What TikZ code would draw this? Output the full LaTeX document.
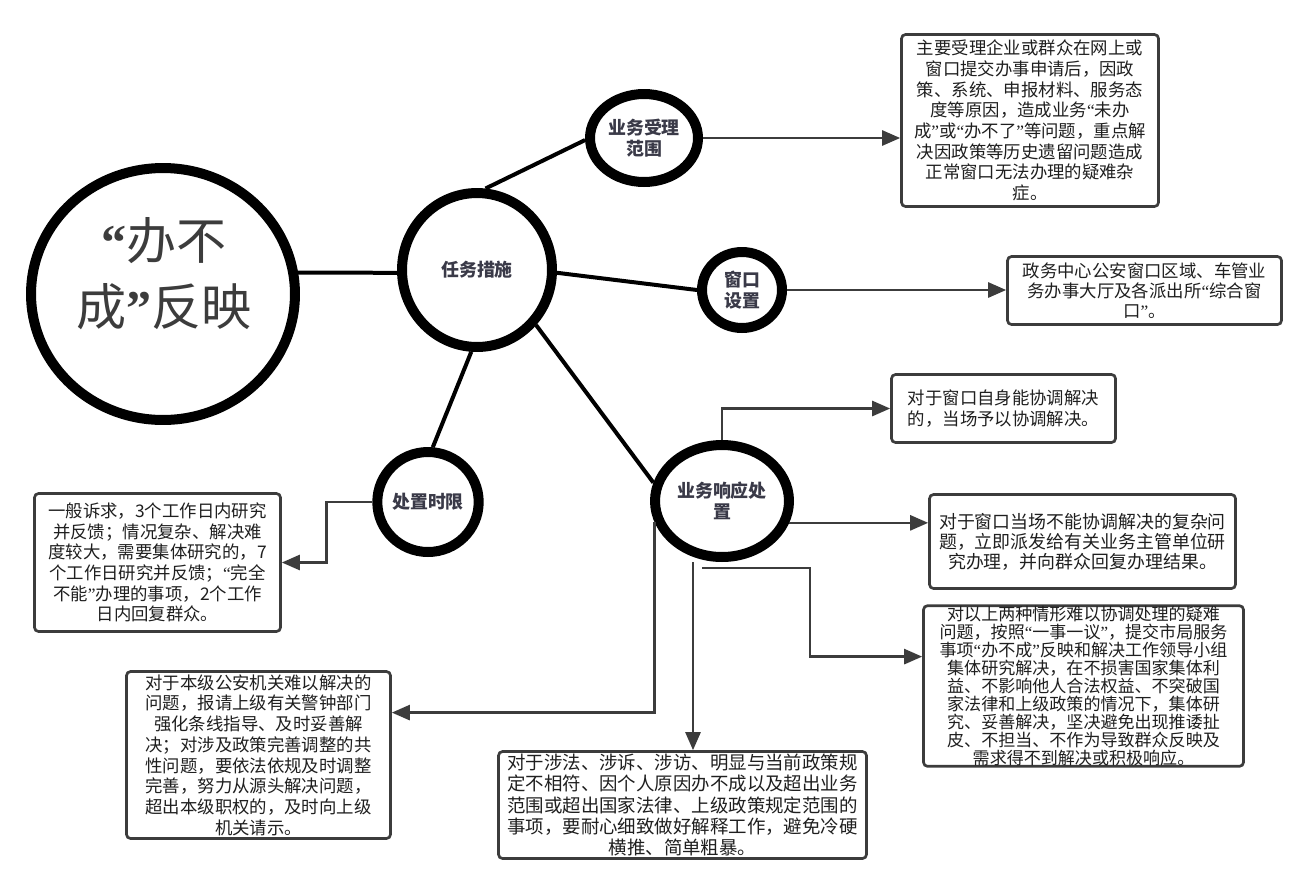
\documentclass[tikz,border=0pt]{standalone}
\usepackage{fontspec}
\setmainfont{Noto Sans CJK SC}
\newfontfamily\qf{Liberation Serif}
\newcommand\oq{{\qf “}}
\newcommand\cq{{\qf ”}}
\usetikzlibrary{shapes.geometric,arrows.meta,calc}
\definecolor{lbl}{HTML}{3A3A48}
\definecolor{ink}{HTML}{3C3C3C}

\begin{document}
        \begin{tikzpicture}[x=0.02cm,y=-0.02cm,
            bub/.style={draw=black,line width=0.2cm,ellipse,inner sep=0pt,align=center,
                text=lbl,font=\bfseries\fontsize{10.2}{12}\selectfont},
            desc/.style={draw=ink,line width=0.054cm,rounded corners=0.08cm,inner sep=0pt,
                align=center,text=black!88,font=\fontsize{9.9}{11.8}\selectfont},
            link/.style={line width=0.08cm},
            arr/.style={draw=ink,line width=0.052cm,-{Triangle[length=0.36cm,width=0.3cm]}}]
            \fill[white] (0,0) rectangle (1314,893);
            \node[bub,minimum width=5.28cm,minimum height=5.04cm] (big) at (163,294) {};
            \node[text=ink,font=\fontsize{28.5}{37.5}\selectfont,align=center] (bigt) at (164,274) {\textbf{\oq}办不\\成\textbf{\cq}反映};
            \node[bub,minimum width=3.0cm,minimum height=3.08cm] (tm) at (477,270) {任务措施};
            \node[bub,minimum width=2.16cm,minimum height=1.76cm] (sl) at (644,138) {业务受理\\范围};
            \node[bub,minimum width=1.6cm,minimum height=1.52cm] (ck) at (742,290) {窗口\\设置};
            \node[bub,minimum width=2.0cm,minimum height=2.0cm] (cz) at (428,502) {处置时限};
            \node[bub,minimum width=2.68cm,minimum height=2.24cm] (xy) at (722,501) {业务响应处\\置};

            \node[desc,minimum width=5.14cm,minimum height=3.44cm] (sld) at (1030,120.5) {主要受理企业或群众在网上或\\窗口提交办事申请后，因政\\策、系统、申报材料、服务态\\度等原因，造成业务\oq 未办\\成\cq 或\oq 办不了\cq 等问题，重点解\\决因政策等历史遗留问题造成\\正常窗口无法办理的疑难杂\\症。};
            \node[desc,minimum width=5.48cm,minimum height=1.36cm,font=\fontsize{9.9}{11.4}\selectfont] (ckd) at (1144.5,290.5) {政务中心公安窗口区域、车管业\\务办事大厅及各派出所\oq 综合窗\\口\cq 。};
            \node[desc,minimum width=4.48cm,minimum height=1.36cm] (xyA) at (1003.5,408.5) {对于窗口自身能协调解决\\的，当场予以协调解决。};
            \node[desc,minimum width=6.12cm,minimum height=1.88cm,font=\fontsize{10.2}{11.4}\selectfont] (xyB) at (1082.5,541.5) {对于窗口当场不能协调解决的复杂问\\题，立即派发给有关业务主管单位研\\究办理，并向群众回复办理结果。};
            \node[desc,minimum width=6.4cm,minimum height=3.18cm,font=\fontsize{9.7}{10.3}\selectfont] (xyC) at (1083.5,686) {对以上两种情形难以协调处理的疑难\\问题，按照\oq 一事一议\cq ，提交市局服务\\事项\oq 办不成\cq 反映和解决工作领导小组\\集体研究解决，在不损害国家集体利\\益、不影响他人合法权益、不突破国\\家法律和上级政策的情况下，集体研\\究、妥善解决，坚决避免出现推诿扯\\皮、不担当、不作为导致群众反映及\\需求得不到解决或积极响应。};
            \node[desc,minimum width=7.36cm,minimum height=2.14cm,font=\fontsize{10.5}{12}\selectfont] (xyD) at (682.5,805) {对于涉法、涉诉、涉访、明显与当前政策规\\定不相符、因个人原因办不成以及超出业务\\范围或超出国家法律、上级政策规定范围的\\事项，要耐心细致做好解释工作，避免冷硬\\横推、简单粗暴。};
            \node[desc,minimum width=5.28cm,minimum height=3.34cm] (xyE) at (258.5,755) {对于本级公安机关难以解决的\\问题，报请上级有关警钟部门\\强化条线指导、及时妥善解\\决；对涉及政策完善调整的共\\性问题，要依法依规及时调整\\完善，努力从源头解决问题，\\超出本级职权的，及时向上级\\机关请示。};
            \node[desc,minimum width=4.92cm,minimum height=2.76cm] (czd) at (157.5,562.5) {一般诉求，3个工作日内研究\\并反馈；情况复杂、解决难\\度较大，需要集体研究的，7\\个工作日研究并反馈；\oq 完全\\不能\cq 办理的事项，2个工作\\日内回复群众。};

            \draw[link] (big.9) -- (tm.182);
            \draw[link] (tm.84) -- (sl.182);
            \draw[link] (tm.-2) -- (ck.west);
            \draw[link] (tm.266) -- (cz.85);
            \draw[link] (tm.317) -- (xy.165);

            \draw[arr] (sl.east) -- (sl.east -| sld.west);
            \draw[arr] (ck.east) -- (ck.east -| ckd.west);
            \draw[arr] (xy.north) |- (xyA.west);
            \draw[arr] (xy.-18) -- (xy.-18 -| xyB.west);
            \draw[arr] ([xshift=-0.4cm,yshift=-0.12cm]xy.south) -- ++(108,0) |- ($(xyC.north west)!0.32!(xyC.south west)$);
            \draw[arr] ([xshift=-0.58cm]xy.south) -- ([xshift=-0.58cm]xy.south |- xyD.north);
            \draw[arr] (xy.197) |- ($(xyE.north east)!0.25!(xyE.south east)$);
            \draw[arr] (cz.west) -- ++(-46,0) |- (czd.east);
        \end{tikzpicture}
\end{document}
